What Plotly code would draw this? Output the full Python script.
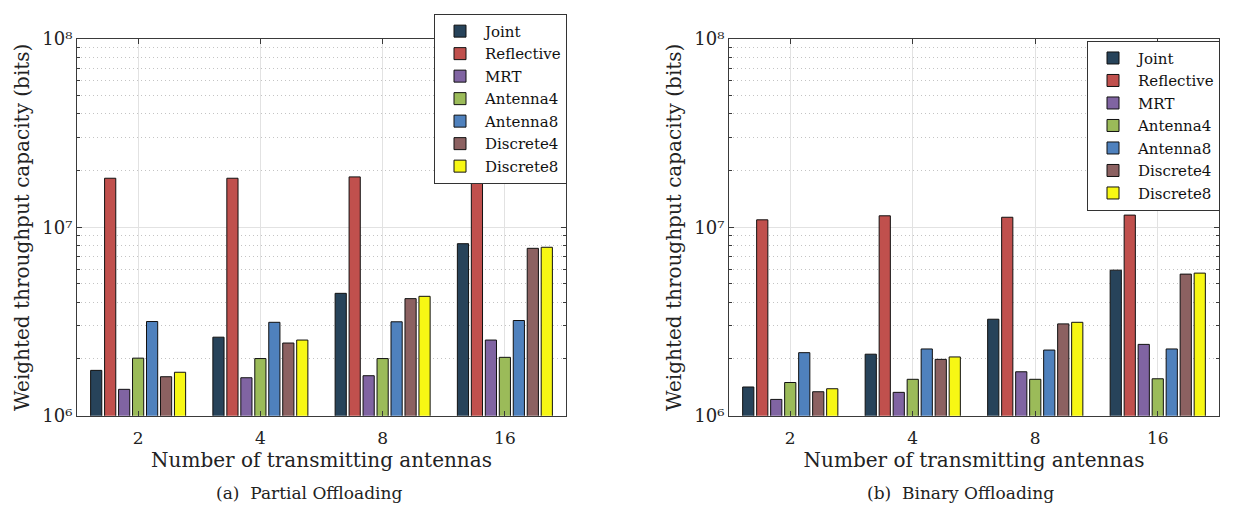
import plotly.graph_objects as go

categories = ["2", "4", "8", "16"]
series_names = ["Joint", "Reflective", "MRT", "Antenna4", "Antenna8", "Discrete4", "Discrete8"]
series_colors = ["#27435A", "#C0504D", "#8064A2", "#9BBB59", "#4F81BD", "#8C6161", "#F7F714"]

# (a) Partial Offloading
partial_joint = [1.74e6, 2.61e6, 4.46e6, 8.18e6]
partial_reflective = [1.82e7, 1.82e7, 1.85e7, 1.86e7]
partial_mrt = [1.38e6, 1.59e6, 1.63e6, 2.52e6]
partial_antenna4 = [2.02e6, 2.01e6, 2.01e6, 2.04e6]
partial_antenna8 = [3.16e6, 3.13e6, 3.15e6, 3.20e6]
partial_discrete4 = [1.61e6, 2.43e6, 4.18e6, 7.73e6]
partial_discrete8 = [1.70e6, 2.52e6, 4.30e6, 7.83e6]

# (b) Binary Offloading
binary_joint = [1.42e6, 2.12e6, 3.25e6, 5.92e6]
binary_reflective = [1.095e7, 1.15e7, 1.13e7, 1.16e7]
binary_mrt = [1.22e6, 1.33e6, 1.71e6, 2.39e6]
binary_antenna4 = [1.50e6, 1.56e6, 1.56e6, 1.57e6]
binary_antenna8 = [2.16e6, 2.26e6, 2.23e6, 2.26e6]
binary_discrete4 = [1.34e6, 1.99e6, 3.07e6, 5.64e6]
binary_discrete8 = [1.39e6, 2.05e6, 3.13e6, 5.71e6]

y_tick_vals = [1e6, 1e7, 1e8]
y_tick_text = ["10⁶", "10⁷", "10⁸"]
y_minor_vals = [m * 10 ** e for e in (6, 7) for m in range(2, 10)]

x_title = "Number of transmitting antennas"
y_title = "Weighted throughput capacity (bits)"
caption_a = "(a)  Partial Offloading"
caption_b = "(b)  Binary Offloading"

partial = [partial_joint, partial_reflective, partial_mrt, partial_antenna4,
           partial_antenna8, partial_discrete4, partial_discrete8]
binary = [binary_joint, binary_reflective, binary_mrt, binary_antenna4,
          binary_antenna8, binary_discrete4, binary_discrete8]

FONT = "DejaVu Serif"
W, H = 1235, 512

fig = go.Figure()
for name, color, vals in zip(series_names, series_colors, partial):
    fig.add_trace(go.Bar(x=categories, y=vals, name=name, marker_color=color,
                         marker_line=dict(color="#111111", width=1),
                         xaxis="x", yaxis="y", legend="legend"))
for name, color, vals in zip(series_names, series_colors, binary):
    fig.add_trace(go.Bar(x=categories, y=vals, name=name, marker_color=color,
                         marker_line=dict(color="#111111", width=1),
                         xaxis="x2", yaxis="y2", legend="legend2"))

top_px, bot_px = 29, 422
ydom = [1 - bot_px / H, 1 - top_px / H]

def xaxis(dom, anchor):
    return dict(domain=dom, anchor=anchor, type="category", range=[-0.5, 3.5],
                showline=True, linecolor="#3a3a3a", linewidth=1, mirror="ticks",
                ticks="inside", ticklen=5, tickcolor="#3a3a3a",
                showgrid=True, gridcolor="#e2e2e2", gridwidth=1,
                tickfont=dict(family=FONT, size=17, color="#222222"),
                ticklabelstandoff=7,
                title=dict(text=x_title, font=dict(family=FONT, size=20, color="#222222"), standoff=3),
                zeroline=False)

def yaxis(anchor):
    return dict(domain=ydom, anchor=anchor, type="log", range=[6, 8],
                showline=True, linecolor="#3a3a3a", linewidth=1, mirror="ticks",
                ticks="inside", ticklen=5, tickcolor="#3a3a3a",
                tickvals=y_tick_vals, ticktext=y_tick_text,
                showgrid=True, gridcolor="#e2e2e2", gridwidth=1,
                minor=dict(tickvals=y_minor_vals, ticks="inside", ticklen=3, tickcolor="#3a3a3a",
                           showgrid=True, gridcolor="#c4c4c4", griddash="1px,3px", gridwidth=1),
                tickfont=dict(family=FONT, size=18, color="#222222"),
                title=dict(text=y_title, font=dict(family=FONT, size=20, color="#222222"), standoff=7),
                zeroline=False)

legend_style = dict(bgcolor="white", bordercolor="#333333", borderwidth=1,
                    font=dict(family=FONT, size=15, color="#111111"),
                    xanchor="left", yanchor="top", tracegroupgap=0, itemwidth=40)

fig.update_layout(
    width=W, height=H, autosize=False,
    margin=dict(l=0, r=0, t=0, b=0),
    paper_bgcolor="white", plot_bgcolor="white",
    barmode="group", bargap=0.2, bargroupgap=0.2,
    xaxis=xaxis([77 / W, 566 / W], "y"),
    yaxis=yaxis("x"),
    xaxis2=xaxis([729 / W, 1219 / W], "y2"),
    yaxis2=yaxis("x2"),
    legend=dict(x=434 / W, y=1 - 3 / H, **legend_style),
    legend2=dict(x=1087 / W, y=1 - 31 / H, **legend_style),
    annotations=[
        dict(text=caption_a, x=309 / W, y=1 - 503 / H, xref="paper", yref="paper",
             xanchor="center", yanchor="middle",
             showarrow=False, font=dict(family=FONT, size=17, color="#222222")),
        dict(text=caption_b, x=960 / W, y=1 - 503 / H, xref="paper", yref="paper",
             xanchor="center", yanchor="middle",
             showarrow=False, font=dict(family=FONT, size=17, color="#222222")),
    ],
)

fig.write_html("out.html")
